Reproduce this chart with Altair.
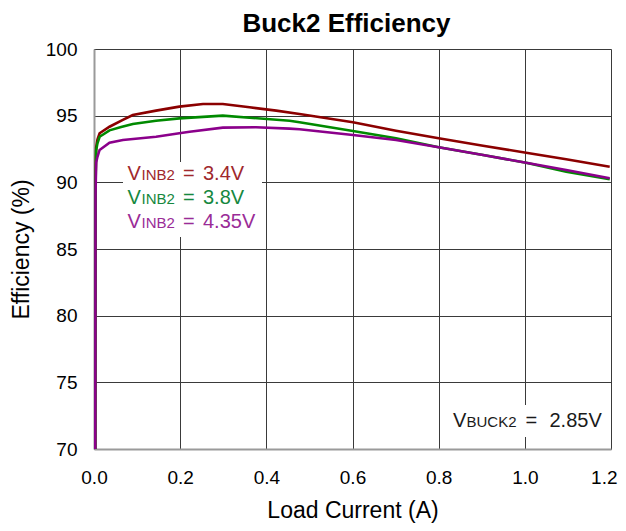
import altair as alt
import pandas as pd

FONT = "Arial, Liberation Sans, Helvetica, sans-serif"

# ---- data ----
x_ticks = [0.0, 0.2, 0.4, 0.6, 0.8, 1.0, 1.2]
y_ticks = [70, 75, 80, 85, 90, 95, 100]

load_34 = [0.003, 0.0035, 0.005, 0.008, 0.013, 0.036, 0.067, 0.09, 0.144, 0.198, 0.253, 0.299,
           0.361, 0.423, 0.477, 0.601, 0.701, 0.80, 0.903, 1.003, 1.096, 1.197]
eff_34 = [70.0, 90.0, 92.6, 93.2, 93.68, 94.17, 94.68, 95.05, 95.38, 95.68, 95.88, 95.88,
          95.63, 95.38, 95.13, 94.5, 93.87, 93.3, 92.75, 92.22, 91.73, 91.17]

load_38 = [0.003, 0.0035, 0.005, 0.008, 0.013, 0.036, 0.063, 0.09, 0.144, 0.198, 0.299,
           0.454, 0.477, 0.601, 0.701, 0.80, 0.903, 1.003, 1.096, 1.197]
eff_38 = [70.0, 89.5, 92.4, 92.93, 93.42, 93.9, 94.15, 94.38, 94.62, 94.8, 95.0,
          94.62, 94.5, 93.85, 93.3, 92.63, 92.05, 91.47, 90.8, 90.23]

load_435 = [0.003, 0.0035, 0.005, 0.008, 0.013, 0.036, 0.067, 0.144, 0.198, 0.222, 0.299,
            0.376, 0.454, 0.477, 0.601, 0.701, 0.80, 0.903, 1.003, 1.096, 1.197]
eff_435 = [70.0, 89.0, 91.5, 91.92, 92.43, 92.97, 93.18, 93.42, 93.68, 93.8, 94.1,
           94.13, 94.03, 93.98, 93.55, 93.18, 92.63, 92.05, 91.47, 90.93, 90.3]

series_values = ["3.4V", "3.8V", "4.35V"]
series_loads = [load_34, load_38, load_435]
series_effs = [eff_34, eff_38, eff_435]
line_colors = ["#8B0000", "#008A00", "#8B008B"]
text_colors = ["#A0282C", "#16883E", "#9A2C97"]

legend_main = "V"
legend_sub = "INB2"
note_main = "V"
note_sub = "BUCK2"
note_value = "2.85V"
equals = "="

title_text = "Buck2 Efficiency"
x_title = "Load Current (A)"
y_title = "Efficiency (%)"

# ---- encodings ----
x_enc = alt.X(
    "load:Q",
    scale=alt.Scale(domain=[0, 1.2], nice=False),
    axis=alt.Axis(
        values=x_ticks, format=".1f", title=x_title, ticks=False,
        labelFontSize=19, labelFont=FONT, labelColor="#000", labelPadding=19,
        labelOverlap=False, labelFlush=False,
        labelAlign=alt.ConditionalAxisLabelAlign(
            condition={"test": "datum.value >= 1.19", "value": "right"}, value="center"),
        labelOffset=alt.ConditionalAxisNumber(
            condition={"test": "datum.value >= 1.19", "value": 6}, value=0),
        titleFontSize=23, titleFont=FONT, titleFontWeight="normal", titleColor="#000",
        titlePadding=12,
        gridColor="#3a3a3a", gridWidth=1, gridOpacity=1,
        domainColor="#9a9a9a", domainWidth=2,
    ),
)
y_enc = alt.Y(
    "eff:Q",
    scale=alt.Scale(domain=[70, 100], nice=False),
    axis=alt.Axis(
        values=y_ticks, title=y_title, ticks=False,
        labelFontSize=19, labelFont=FONT, labelColor="#000", labelPadding=17,
        labelOverlap=False, labelFlush=False,
        titleFontSize=23, titleFont=FONT, titleFontWeight="normal", titleColor="#000",
        titlePadding=12,
        gridColor="#3a3a3a", gridWidth=1, gridOpacity=1,
        domainColor="#9a9a9a", domainWidth=2,
    ),
)

one = pd.DataFrame({"k": [0]})

layers = []
# white boxes behind the annotations (hide the grid)
layers.append(alt.Chart(one).mark_rect(color="white").encode(
    x=alt.value(29), x2=alt.value(168), y=alt.value(113), y2=alt.value(188)))
layers.append(alt.Chart(one).mark_rect(color="white").encode(
    x=alt.value(351), x2=alt.value(514), y=alt.value(356), y2=alt.value(388)))

# curves
for loads, effs, col in zip(series_loads, series_effs, line_colors):
    df = pd.DataFrame({"load": loads, "eff": effs})
    layers.append(alt.Chart(df).mark_line(color=col, strokeWidth=2.6, clip=True)
                  .encode(x=x_enc, y=y_enc))


def txt(s, x, y, size, color, align="left", weight="normal"):
    return alt.Chart(pd.DataFrame({"t": [s]})).mark_text(
        align=align, baseline="alphabetic", fontSize=size, font=FONT, color=color,
        fontWeight=weight
    ).encode(text="t:N", x=alt.value(x), y=alt.value(y))


baselines = [131, 155, 179]
for val, col, yb in zip(series_values, text_colors, baselines):
    layers.append(txt(legend_main, 33.5, yb, 20, col))
    layers.append(txt(legend_sub, 47.5, yb, 15, col))
    layers.append(txt(equals, 89, yb, 20, col))
    layers.append(txt(val, 109, yb, 20, col))

note_color = "#1a1a1a"
layers.append(txt(note_main, 359, 377.5, 20, note_color))
layers.append(txt(note_sub, 372.5, 377.5, 15, note_color))
layers.append(txt(equals, 431.5, 377.5, 20, note_color))
layers.append(txt(note_value, 455.5, 377.5, 20, note_color))

# chart title (drawn as text above the plot)
layers.append(txt(title_text, 252.5, -17.3, 26, "#000", align="center", weight="bold"))

chart = alt.layer(*layers).properties(
    width=517,
    height=400,
    autosize="none",
    padding={"left": 86, "top": 41, "right": 7, "bottom": 74},
).configure_view(stroke="#333", strokeWidth=1).configure(background="white")

chart.save("out.html", embed_options={"renderer": "svg", "actions": False})
